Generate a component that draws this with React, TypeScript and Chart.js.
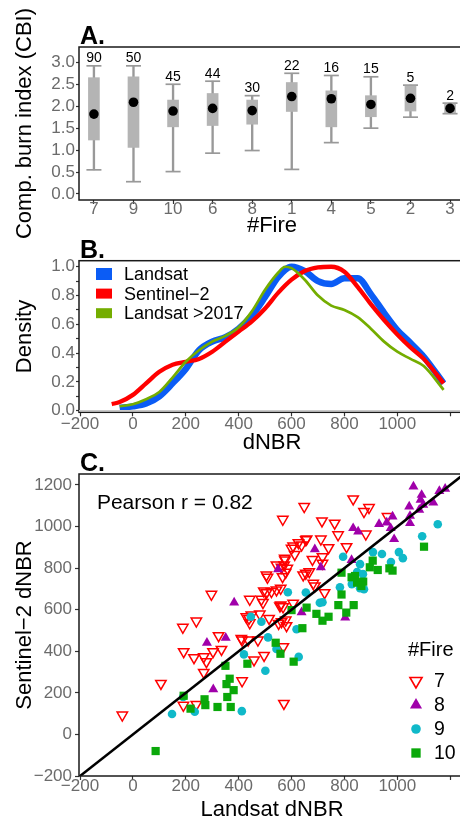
import React, { useEffect, useRef } from 'react';
import { Chart, registerables } from 'chart.js';

Chart.register(...registerables);

const FONT = "'Liberation Sans', Arial, Helvetica, sans-serif";
Chart.defaults.font.family = FONT;
Chart.defaults.color = '#000';

const TICK_GRAY = '#6b6b6b';
const AXIS_DARK = '#333333';

// ---------------- Panel A: CBI box plots ----------------
const FIRE_IDS = ['7', '9', '10', '6', '8', '1', '4', '5', '2', '3'];
const PLOT_COUNTS = [90, 50, 45, 44, 30, 22, 16, 15, 5, 2];
const CBI_LOW = [0.55, 0.28, 0.51, 0.93, 0.99, 0.56, 1.17, 1.5, 1.75, 1.83];
const CBI_Q1 = [1.23, 1.06, 1.53, 1.56, 1.59, 1.88, 1.53, 1.76, 1.89, 1.85];
const CBI_Q3 = [2.65, 2.67, 2.14, 2.29, 2.14, 2.54, 2.35, 2.24, 2.46, 2.05];
const CBI_HIGH = [2.92, 2.92, 2.5, 2.57, 2.24, 2.75, 2.7, 2.67, 2.48, 2.07];
const CBI_MEAN = [1.82, 2.09, 1.89, 1.95, 1.9, 2.22, 2.17, 2.04, 2.18, 1.95];
const CBI_TICKS = [0, 0.5, 1, 1.5, 2, 2.5, 3];

// ---------------- Panel B: dNBR densities ----------------
const DNBR_TICKS = [-200, 0, 200, 400, 600, 800, 1000, 1200];
const DNBR_UNLABELED = [1200];
const DENSITY_TICKS = [0, 0.1, 0.2, 0.3, 0.4, 0.5, 0.6, 0.7, 0.8, 0.9, 1.0];
const DENSITY_LABELED = [0, 0.2, 0.4, 0.6, 0.8, 1.0];

const LANDSAT_X = [-50, 0, 50, 100, 150, 200, 250, 300, 350, 400, 450, 500, 550, 600, 650, 700, 750, 800, 850, 900, 950, 1000, 1050, 1100, 1175];
const LANDSAT_Y = [0.02, 0.03, 0.05, 0.1, 0.19, 0.29, 0.42, 0.48, 0.51, 0.57, 0.66, 0.79, 0.93, 1.0, 0.97, 0.9, 0.88, 0.92, 0.92, 0.81, 0.68, 0.56, 0.47, 0.375, 0.19];

const S2_X = [-80, -50, 0, 50, 100, 150, 200, 250, 300, 350, 400, 450, 500, 550, 600, 650, 700, 750, 800, 850, 900, 950, 1000, 1050, 1100, 1175];
const S2_Y = [0.046, 0.06, 0.11, 0.19, 0.27, 0.32, 0.34, 0.36, 0.41, 0.48, 0.55, 0.62, 0.71, 0.82, 0.91, 0.97, 0.995, 1.0, 0.965, 0.86, 0.74, 0.63, 0.53, 0.44, 0.36, 0.19];

const L2017_X = [-50, 0, 50, 100, 150, 200, 250, 300, 350, 400, 450, 500, 550, 575, 600, 650, 700, 750, 800, 850, 900, 950, 1000, 1050, 1100, 1175];
const L2017_Y = [0.03, 0.045, 0.08, 0.13, 0.23, 0.34, 0.42, 0.48, 0.52, 0.58, 0.69, 0.84, 0.96, 1.0, 0.99, 0.91, 0.8, 0.73, 0.7, 0.65, 0.57, 0.48, 0.41, 0.36, 0.31, 0.145];

const DENSITY_SERIES = [
  { label: 'Landsat', color: '#0b5cf5', width: 6.5, keyH: 12 },
  { label: 'Sentinel\u22122', color: '#ff0000', width: 4.3, keyH: 10 },
  { label: 'Landsat >2017', color: '#74ad00', width: 2.7, keyH: 10 },
];

// ---------------- Panel C: Landsat vs Sentinel-2 dNBR ----------------
type Pt = [number, number];
const FIRE7_PTS: Pt[] = [
  [833, 1133], [648, 1096], [893, 1091], [874, 1072], [567, 1035], [715, 1027], [763, 1016], [963, 1048],
  [776, 960], [711, 940], [657, 940], [881, 964], [654, 936], [626, 922], [740, 898], [808, 903], [606, 906], [600, 895], [638, 911],
  [612, 866], [574, 847], [679, 842], [717, 855], [717, 823], [572, 815], [562, 804], [584, 799], [578, 780], [566, 759], [543, 815], [575, 839],
  [654, 775], [667, 783], [644, 767], [505, 767], [509, 756], [682, 727], [688, 714], [725, 682], [559, 703], [543, 695], [524, 687], [505, 682], [495, 690],
  [486, 650], [492, 634], [442, 650], [559, 622], [568, 614], [606, 631], [556, 618],
  [448, 574], [480, 579], [515, 558], [551, 534], [581, 523], [578, 550], [562, 542], [439, 558], [442, 537], [429, 566],
  [240, 545], [189, 515], [297, 674], [324, 475], [335, 409], [192, 398], [231, 369], [268, 374], [278, 350], [268, 298], [303, 398],
  [410, 462], [413, 454], [436, 454], [473, 454], [458, 358], [496, 380], [413, 258], [571, 149], [569, 422], [191, 140], [240, 144], [106, 245], [-40, 93],
];
const FIRE8_PTS: Pt[] = [
  [1061, 1192], [1092, 1152], [1088, 1128], [1045, 1096], [1098, 1104], [1083, 1080], [1136, 1115], [1159, 1171], [1181, 1181],
  [1048, 1016], [1048, 1051], [931, 1012], [960, 1019], [982, 1048], [975, 992], [988, 939],
  [833, 992], [852, 976], [827, 839], [688, 890], [711, 804], [549, 794], [383, 634], [280, 441], [351, 465], [304, 217], [638, 587], [803, 562],
];
const FIRE9_PTS: Pt[] = [
  [1153, 1011], [1094, 953], [1006, 877], [1021, 848], [976, 829], [942, 868], [908, 877], [795, 855], [859, 819], [848, 781], [870, 771],
  [828, 723], [859, 703], [874, 698], [783, 708], [654, 683], [586, 684], [707, 633], [717, 636], [446, 566], [486, 542], [511, 467],
  [619, 506], [543, 411], [420, 385], [627, 373], [501, 306], [148, 98], [234, 109], [412, 112], [190, 180],
];
const FIRE10_PTS: Pt[] = [
  [1101, 903], [907, 836], [896, 804], [926, 791], [970, 799], [982, 788], [789, 778], [827, 756], [840, 762], [848, 730], [871, 735], [864, 714],
  [789, 673], [777, 622], [835, 622], [807, 586], [694, 580], [717, 547], [740, 566], [657, 610], [600, 598], [641, 511],
  [540, 441], [558, 388], [608, 350], [433, 340], [350, 330], [366, 268], [354, 242], [381, 213], [357, 180], [370, 132], [320, 132],
  [274, 141], [271, 169], [218, 124], [192, 186], [86, -80],
];
const SCATTER_TICKS = [-200, 0, 200, 400, 600, 800, 1000, 1200];
const IDENTITY_LINE = [-210, 1300];
const PEARSON_LABEL = 'Pearson r = 0.82';
const PEARSON_AT: Pt = [-136, 1112];

const FIRE_SERIES = [
  { label: '7', pts: FIRE7_PTS, style: 'down', fill: 'rgba(0,0,0,0)', stroke: '#ff0000', r: 6, keyR: 7 },
  { label: '8', pts: FIRE8_PTS, style: 'up', fill: '#a000aa', stroke: '#a000aa', r: 5.8, keyR: 7 },
  { label: '9', pts: FIRE9_PTS, style: 'circle', fill: '#10b9c9', stroke: '#10b9c9', r: 4.3, keyR: 4.8 },
  { label: '10', pts: FIRE10_PTS, style: 'rect', fill: '#0aa80a', stroke: '#0aa80a', r: 5.8, keyR: 6.6 },
];

// ---------------- helpers ----------------
const fmtSigned = (v: number) => (v < 0 ? '\u2212' + Math.abs(v) : String(v));
const fromPairs = (p: Pt[]) => p.map(([x, y]) => ({ x, y }));
const zipXY = (xs: number[], ys: number[]) => xs.map((x, i) => ({ x, y: ys[i] }));

const tickGrid = (len: number) => ({
  display: true, drawOnChartArea: false, drawTicks: true, tickLength: len,
  tickColor: AXIS_DARK, tickWidth: 1.2, color: AXIS_DARK,
});
const tickFont = { size: 17, family: FONT, lineHeight: 1 };
const axisTitle = (text: string, padding: any) => ({
  display: true, text, color: '#000', font: { size: 22, family: FONT }, padding,
});

const baseOptions = (padding: any) => ({
  responsive: false,
  maintainAspectRatio: false,
  animation: false,
  events: [],
  devicePixelRatio: 1,
  layout: { padding, autoPadding: false },
  plugins: { legend: { display: false }, tooltip: { enabled: false } },
});

const framePlugin = (label: string) => ({
  id: 'frame',
  afterDatasetsDraw(chart: any) {
    const { ctx, chartArea: a } = chart;
    ctx.save();
    ctx.strokeStyle = '#1a1a1a';
    ctx.lineWidth = 1.5;
    ctx.strokeRect(a.left, a.top, a.right - a.left, a.bottom - a.top);
    ctx.fillStyle = '#000';
    ctx.font = `bold 25px ${FONT}`;
    ctx.textAlign = 'left';
    ctx.textBaseline = 'alphabetic';
    ctx.fillText(label, a.left + 1, a.top - 3);
    ctx.restore();
  },
});

function drawMarker(ctx: CanvasRenderingContext2D, style: string, x: number, y: number, r: number, fill: string, stroke: string, lw: number) {
  ctx.beginPath();
  if (style === 'down') {
    ctx.moveTo(x, y + r);
    ctx.lineTo(x - r * 0.866, y - r / 2);
    ctx.lineTo(x + r * 0.866, y - r / 2);
    ctx.closePath();
  } else if (style === 'up') {
    ctx.moveTo(x, y - r);
    ctx.lineTo(x + r * 0.866, y + r / 2);
    ctx.lineTo(x - r * 0.866, y + r / 2);
    ctx.closePath();
  } else if (style === 'circle') {
    ctx.arc(x, y, r, 0, Math.PI * 2);
  } else {
    const s = r * Math.SQRT1_2;
    ctx.rect(x - s, y - s, 2 * s, 2 * s);
  }
  ctx.fillStyle = fill;
  ctx.fill();
  if (lw > 0) {
    ctx.strokeStyle = stroke;
    ctx.lineWidth = lw;
    ctx.stroke();
  }
}

// ---------------- chart builders ----------------
function buildA(canvas: HTMLCanvasElement) {
  const countPlugin = {
    id: 'counts',
    afterDatasetsDraw(chart: any) {
      const { ctx, scales } = chart;
      ctx.save();
      ctx.font = `14px ${FONT}`;
      ctx.fillStyle = '#000';
      ctx.textAlign = 'center';
      ctx.textBaseline = 'alphabetic';
      PLOT_COUNTS.forEach((n, i) => {
        ctx.fillText(String(n), scales.x.getPixelForValue(i), scales.y.getPixelForValue(CBI_HIGH[i]) - 3.5);
      });
      ctx.restore();
    },
  };
  const idx = FIRE_IDS.map((_, i) => i);
  return new Chart(canvas, {
    type: 'bar',
    data: {
      datasets: [
        {
          type: 'scatter', label: 'mean', data: idx.map((i) => ({ x: i, y: CBI_MEAN[i] })),
          pointRadius: 4.8, pointBackgroundColor: '#000', pointBorderWidth: 0, order: 0,
        } as any,
        {
          type: 'bar', label: 'IQR', data: idx.map((i) => ({ x: i, y: [CBI_Q1[i], CBI_Q3[i]] })),
          backgroundColor: '#b4b4b4', borderWidth: 0, barThickness: 11, maxBarThickness: 11, grouped: false, order: 1,
        } as any,
        {
          type: 'scatter', label: 'caps',
          data: [...idx.map((i) => ({ x: i, y: CBI_LOW[i] })), ...idx.map((i) => ({ x: i, y: CBI_HIGH[i] }))],
          pointStyle: 'line', pointRadius: 7.5, pointBorderColor: '#999999', pointBorderWidth: 1.7, order: 2,
        } as any,
        {
          type: 'bar', label: 'whisker', data: idx.map((i) => ({ x: i, y: [CBI_LOW[i], CBI_HIGH[i]] })),
          backgroundColor: '#999999', borderWidth: 0, barThickness: 1.7, maxBarThickness: 1.7, grouped: false, order: 3,
        } as any,
      ],
    },
    options: {
      ...baseOptions({ top: 47, right: 5, left: 0, bottom: 0 }),
      scales: {
        x: {
          type: 'linear', position: 'bottom', min: -0.377, max: 9.378, offset: false, bounds: 'data',
          afterBuildTicks: (s: any) => { s.ticks = idx.map((i) => ({ value: i })); },
          afterFit: (s: any) => { s.height = 40; },
          grid: { ...tickGrid(4), offset: false },
          border: { display: false },
          ticks: { color: TICK_GRAY, font: tickFont, padding: -3.5, autoSkip: false, maxRotation: 0, minRotation: 0,
            callback: (v: any) => FIRE_IDS[v] ?? '' },
          title: axisTitle('#Fire', { top: 0, bottom: 1 }),
        },
        y: {
          type: 'linear', min: -0.137, max: 3.349, bounds: 'data',
          afterBuildTicks: (s: any) => { s.ticks = CBI_TICKS.map((v) => ({ value: v })); },
          afterFit: (s: any) => { s.width = 79; },
          grid: tickGrid(3),
          border: { display: false },
          ticks: { color: TICK_GRAY, font: tickFont, padding: 1, autoSkip: false, callback: (v: any) => Number(v).toFixed(1) },
          title: axisTitle('Comp. burn index (CBI)', { top: 12, bottom: 0 }),
        },
      },
    } as any,
    plugins: [framePlugin('A.'), countPlugin],
  });
}

function buildB(canvas: HTMLCanvasElement) {
  const legendPlugin = {
    id: 'densityLegend',
    afterDraw(chart: any) {
      const { ctx, chartArea: a, scales } = chart;
      ctx.save();
      const y0 = scales.y.getPixelForValue(0);
      ctx.strokeStyle = '#c9c9c9';
      ctx.lineWidth = 1.5;
      ctx.beginPath();
      ctx.moveTo(a.left, y0);
      ctx.lineTo(a.right, y0);
      ctx.stroke();
      ctx.font = `18px ${FONT}`;
      ctx.textAlign = 'left';
      ctx.textBaseline = 'middle';
      DENSITY_SERIES.forEach((s, i) => {
        const cy = a.top + 13.3 + i * 19.6;
        ctx.fillStyle = s.color;
        ctx.fillRect(a.left + 17, cy - s.keyH / 2, 16, s.keyH);
        ctx.fillStyle = '#000';
        ctx.fillText(s.label, a.left + 45, cy + 1);
      });
      ctx.restore();
    },
  };
  const series = [
    { xs: LANDSAT_X, ys: LANDSAT_Y, order: 3 },
    { xs: S2_X, ys: S2_Y, order: 2 },
    { xs: L2017_X, ys: L2017_Y, order: 1 },
  ];
  return new Chart(canvas, {
    type: 'scatter',
    data: {
      datasets: series.map((s, i) => ({
        label: DENSITY_SERIES[i].label,
        data: zipXY(s.xs, s.ys),
        showLine: true,
        borderColor: DENSITY_SERIES[i].color,
        backgroundColor: DENSITY_SERIES[i].color,
        borderWidth: DENSITY_SERIES[i].width,
        pointRadius: 0,
        cubicInterpolationMode: 'monotone',
        fill: false,
        order: s.order,
      })) as any,
    },
    options: {
      ...baseOptions({ top: 22.7, right: 5, left: 0, bottom: 0 }),
      scales: {
        x: {
          type: 'linear', min: -203.8, max: 1256, bounds: 'data',
          afterBuildTicks: (s: any) => { s.ticks = DNBR_TICKS.map((v) => ({ value: v })); },
          afterFit: (s: any) => { s.height = 51.7; },
          grid: tickGrid(4),
          border: { display: false },
          ticks: { color: TICK_GRAY, font: tickFont, padding: -0.3, autoSkip: false, maxRotation: 0, minRotation: 0,
            callback: (v: any) => (DNBR_UNLABELED.includes(v) ? '' : fmtSigned(v)) },
          title: axisTitle('dNBR', { top: 0, bottom: 7.5 }),
        },
        y: {
          type: 'linear', min: -0.011, max: 1.042, bounds: 'data',
          afterBuildTicks: (s: any) => { s.ticks = DENSITY_TICKS.map((v) => ({ value: v })); },
          afterFit: (s: any) => { s.width = 79; },
          grid: tickGrid(3),
          border: { display: false },
          ticks: { color: TICK_GRAY, font: tickFont, padding: 1, autoSkip: false,
            callback: (v: any) => (DENSITY_LABELED.some((d) => Math.abs(d - v) < 1e-6) ? Number(v).toFixed(1) : '') },
          title: axisTitle('Density', { top: 12, bottom: 0 }),
        },
      },
    } as any,
    plugins: [framePlugin('B.'), legendPlugin],
  });
}

function buildC(canvas: HTMLCanvasElement) {
  const annotPlugin = {
    id: 'scatterAnnot',
    afterDraw(chart: any) {
      const { ctx, chartArea: a, scales } = chart;
      ctx.save();
      ctx.fillStyle = '#000';
      ctx.font = `21px ${FONT}`;
      ctx.textAlign = 'left';
      ctx.textBaseline = 'middle';
      ctx.fillText(PEARSON_LABEL, scales.x.getPixelForValue(PEARSON_AT[0]), scales.y.getPixelForValue(PEARSON_AT[1]));
      // legend
      ctx.font = `20px ${FONT}`;
      ctx.fillText('#Fire', a.left + 329, a.bottom - 126);
      ctx.font = `19.5px ${FONT}`;
      FIRE_SERIES.forEach((s, i) => {
        const cy = a.bottom - 95 + i * 24;
        drawMarker(ctx, s.style, a.left + 337, cy, s.keyR, s.fill, s.stroke, s.style === 'down' ? 1.6 : 0);
        ctx.fillStyle = '#000';
        ctx.fillText(s.label, a.left + 355, cy + 1);
      });
      ctx.restore();
    },
  };
  const pointDatasets = FIRE_SERIES.map((s, i) => ({
    label: s.label,
    data: fromPairs(s.pts),
    pointStyle: s.style === 'down' || s.style === 'up' ? 'triangle' : s.style === 'circle' ? 'circle' : 'rect',
    pointRotation: s.style === 'down' ? 180 : 0,
    pointRadius: s.r,
    pointBackgroundColor: s.fill,
    pointBorderColor: s.stroke,
    pointBorderWidth: s.style === 'down' ? 1.5 : 0,
    order: 4 - i,
  }));
  return new Chart(canvas, {
    type: 'scatter',
    data: {
      datasets: [
        ...pointDatasets,
        {
          label: '1:1', data: IDENTITY_LINE.map((v) => ({ x: v, y: v })), showLine: true,
          borderColor: '#000', borderWidth: 2.6, pointRadius: 0, order: 0,
        },
      ] as any,
    },
    options: {
      ...baseOptions({ top: 26, right: 5, left: 0, bottom: 0 }),
      scales: {
        x: {
          type: 'linear', min: -203.8, max: 1256, bounds: 'data',
          afterBuildTicks: (s: any) => { s.ticks = SCATTER_TICKS.map((v) => ({ value: v })); },
          afterFit: (s: any) => { s.height = 52; },
          grid: tickGrid(4),
          border: { display: false },
          ticks: { color: TICK_GRAY, font: tickFont, padding: -1.8, autoSkip: false, maxRotation: 0, minRotation: 0,
            callback: (v: any) => (DNBR_UNLABELED.includes(v) ? '' : fmtSigned(v)) },
          title: axisTitle('Landsat dNBR', { top: 0, bottom: 4.8 }),
        },
        y: {
          type: 'linear', min: -200, max: 1252.7, bounds: 'data',
          afterBuildTicks: (s: any) => { s.ticks = SCATTER_TICKS.map((v) => ({ value: v })); },
          afterFit: (s: any) => { s.width = 79; },
          grid: tickGrid(4),
          border: { display: false },
          ticks: { color: TICK_GRAY, font: tickFont, padding: 3, autoSkip: false, callback: (v: any) => fmtSigned(v) },
          title: axisTitle('Sentinel\u22122 dNBR', { top: 12, bottom: 0 }),
        },
      },
    } as any,
    plugins: [framePlugin('C.'), annotPlugin],
  });
}

function useChart(build: (c: HTMLCanvasElement) => Chart) {
  const ref = useRef<HTMLCanvasElement>(null);
  useEffect(() => {
    if (!ref.current) return;
    const chart = build(ref.current);
    return () => chart.destroy();
  }, []);
  return ref;
}

export default function App() {
  const refA = useChart(buildA);
  const refB = useChart(buildB);
  const refC = useChart(buildC);
  const cv = (top: number, h: number): React.CSSProperties => ({
    position: 'absolute', left: 0, top, width: 470, height: h,
  });
  return (
    <div style={{ position: 'fixed', left: 0, top: 0, width: 460, height: 818, overflow: 'hidden', background: '#fff' }}>
      <canvas ref={refA} width={470} height={240} style={cv(0, 240)} />
      <canvas ref={refB} width={470} height={226} style={cv(238, 226)} />
      <canvas ref={refC} width={470} height={380} style={cv(448, 380)} />
    </div>
  );
}
